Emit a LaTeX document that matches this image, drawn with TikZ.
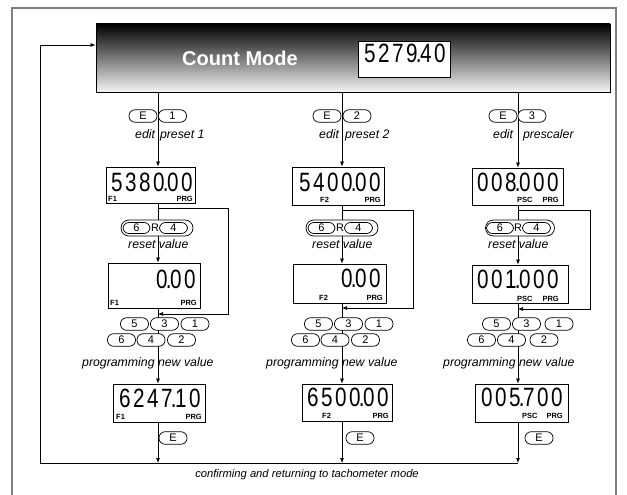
\documentclass[tikz,border=0pt]{standalone}
\usepackage{fontspec}
\setmainfont{Liberation Sans}
\newfontfamily\segfont[FakeStretch=0.78]{Liberation Sans}
\usetikzlibrary{arrows.meta,calc}
\pgfdeclarelayer{background}
\pgfsetlayers{background,main}
\newlength\segw
\setlength\segw{14pt}
\makeatletter
\def\sg@dot{.}
\newcommand\segnum[1]{\@tfor\sg@c:=#1\do{\ifx\sg@c\sg@dot\makebox[0pt]{.}\else\makebox[\segw]{\sg@c}\fi}}
\makeatother
\tikzset{
  disp/.style={draw=black, line width=0.8pt, fill=white, inner sep=0pt},
  seg/.style={font=\segfont\fontsize{26.5}{26.5}\selectfont, inner sep=0pt},
  tag/.style={font=\bfseries\fontsize{7.5}{8}\selectfont, inner sep=0pt},
  key/.style={draw, line width=0.7pt, fill=white, rounded corners=6pt, minimum width=28pt, minimum height=12.5pt, inner sep=0pt, font=\fontsize{11}{11}\selectfont},
  grp/.style={draw, line width=0.7pt, fill=white, rounded corners=8pt, minimum width=72pt, minimum height=16pt, inner sep=0pt},
  note/.style={font=\itshape\fontsize{12.3}{13}\selectfont, inner sep=0pt},
  flow/.style={line width=0.7pt, -{Latex[length=5pt,width=4pt]}},
  wire/.style={line width=0.7pt}
}
\begin{document}
\begin{tikzpicture}[x=1pt,y=-1pt]
\useasboundingbox (0,0) rectangle (627,495);
% frame
\draw[gray, line width=1.2pt] (12,496) -- (12,8) -- (616,8) -- (616,496);
% header
\node[draw=black, line width=0.8pt, top color=black, bottom color=white!96!black, minimum width=514pt, minimum height=68pt, inner sep=0pt] (hdr) at (353,58) {};
\node[font=\bfseries\fontsize{20}{20}\selectfont, text=white, inner sep=0pt] (title) at (240,58) {Count Mode};
\node[disp, minimum width=92pt, minimum height=36pt] (hd) at (404,59) {};
\node[seg, anchor=base east] (hdv) at (447,63) {\segnum{5279.40}};

\coordinate (c1) at (158,0);
\coordinate (c2) at (342,0);
\coordinate (c3) at (518,0);
\coordinate (bl) at (40,463);
\coordinate (tl) at (40,45);

% ---------- column 1 ----------
\node[key] (e1) at (143,116) {E};
\node[key] (n1) at (172.5,116) {1};
\node[note, anchor=base west] (t1) at (135,138) {edit\hspace{5pt}preset 1};
\node[disp, minimum width=89pt, minimum height=36pt] (a1) at (150.5,185) {};
\node[seg, anchor=base east] (a1v) at (194,191) {\segnum{5380.00}};
\node[tag, anchor=base west] (a1f) at (108,201) {F1};
\node[tag, anchor=base east] (a1p) at (193,201) {PRG};
\node[grp] (r1) at (157,228) {};
\node[key, minimum width=27pt, minimum height=11pt] (r1a) at (136.5,228) {6};
\node[font=\fontsize{11}{11}\selectfont, inner sep=0pt] (r1r) at (155,228) {R};
\node[key, minimum width=28pt, minimum height=11pt] (r1b) at (173.5,228) {4};
\node[note, anchor=base west] (s1) at (128,248) {reset value};
\node[disp, minimum width=92pt, minimum height=45pt] (a2) at (154,285.5) {};
\node[seg, anchor=base east] (a2v) at (197,288) {\segnum{0.00}};
\node[tag, anchor=base west] (a2f) at (110,305.5) {F1};
\node[tag, anchor=base east] (a2p) at (197,305.5) {PRG};
\coordinate (j1) at (228,208);
\coordinate (k1) at (228,314);
\node[key] (p15) at (134.5,324) {5};
\node[key] (p13) at (164.5,324) {3};
\node[key] (p11) at (195,324) {1};
\node[key] (p16) at (121.5,340) {6};
\node[key] (p14) at (151,340) {4};
\node[key] (p12) at (181.5,340) {2};
\node[note, anchor=base west] (g1) at (82,366) {programming new value};
\node[disp, minimum width=92pt, minimum height=38pt] (a3) at (159,403) {};
\node[seg, anchor=base east] (a3v) at (202,407) {\segnum{6247.10}};
\node[tag, anchor=base west] (a3f) at (116,419) {F1};
\node[tag, anchor=base east] (a3p) at (202,419) {PRG};
\node[key] (f1) at (173,438) {E};

% ---------- column 2 ----------
\node[key] (e2) at (327,116) {E};
\node[key] (n2) at (357,116) {2};
\node[note, anchor=base west] (t2) at (319,138) {edit\hspace{6pt}preset 2};
\node[disp, minimum width=92pt, minimum height=38pt] (b1) at (338,186) {};
\node[seg, anchor=base east] (b1v) at (382,191) {\segnum{5400.00}};
\node[tag, anchor=base west] (b1f) at (320,202.5) {F2};
\node[tag, anchor=base east] (b1p) at (381,202.5) {PRG};
\node[grp] (r2) at (342,228) {};
\node[key, minimum width=27pt, minimum height=11pt] (r2a) at (321.5,228) {6};
\node[font=\fontsize{11}{11}\selectfont, inner sep=0pt] (r2r) at (340,228) {R};
\node[key, minimum width=28pt, minimum height=11pt] (r2b) at (358.5,228) {4};
\node[note, anchor=base west] (s2) at (312,248) {reset value};
\node[disp, minimum width=93pt, minimum height=39pt] (b2) at (339.5,283.5) {};
\node[seg, anchor=base east] (b2v) at (382,287) {\segnum{0.00}};
\node[tag, anchor=base west] (b2f) at (319,300) {F2};
\node[tag, anchor=base east] (b2p) at (383,300) {PRG};
\coordinate (j2) at (413,210);
\coordinate (k2) at (413,308);
\node[key] (p25) at (318.5,324) {5};
\node[key] (p23) at (348.5,324) {3};
\node[key] (p21) at (379,324) {1};
\node[key] (p26) at (305.5,340) {6};
\node[key] (p24) at (335,340) {4};
\node[key] (p22) at (365.5,340) {2};
\node[note, anchor=base west] (g2) at (266,366) {programming new value};
\node[disp, minimum width=90pt, minimum height=37pt] (b3) at (347,402.5) {};
\node[seg, anchor=base east] (b3v) at (390,406) {\segnum{6500.00}};
\node[tag, anchor=base west] (b3f) at (322,418) {F2};
\node[tag, anchor=base east] (b3p) at (389,418) {PRG};
\node[key] (f2) at (360,438) {E};

% ---------- column 3 ----------
\node[key] (e3) at (503,116) {E};
\node[key] (n3) at (532,116) {3};
\node[note, anchor=base west] (t3) at (493,138) {edit\hspace{10pt}prescaler};
\node[disp, minimum width=91pt, minimum height=37pt] (d1) at (517.5,186.5) {};
\node[seg, anchor=base east] (d1v) at (560,191) {\segnum{008.000}};
\node[tag, anchor=base west] (d1s) at (517,202.5) {PSC};
\node[tag, anchor=base east] (d1p) at (559,202.5) {PRG};
\node[grp, minimum width=69pt] (r3) at (520,228) {};
\node[key, minimum width=27pt, minimum height=11pt] (r3a) at (500,228) {6};
\node[font=\fontsize{11}{11}\selectfont, inner sep=0pt] (r3r) at (518,228) {R};
\node[key, minimum width=28pt, minimum height=11pt] (r3b) at (536.5,228) {4};
\node[note, anchor=base west] (s3) at (488,248) {reset value};
\node[disp, minimum width=96pt, minimum height=38pt] (d2) at (520,284) {};
\node[seg, anchor=base east] (d2v) at (560,288) {\segnum{001.000}};
\node[tag, anchor=base west] (d2s) at (517,301) {PSC};
\node[tag, anchor=base east] (d2p) at (559,301) {PRG};
\coordinate (j3) at (590,210);
\coordinate (k3) at (590,309);
\node[key] (p35) at (496.5,324) {5};
\node[key] (p33) at (526.5,324) {3};
\node[key] (p31) at (559,324) {1};
\node[key] (p36) at (481.5,340) {6};
\node[key] (p34) at (511.5,340) {4};
\node[key] (p32) at (544,340) {2};
\node[note, anchor=base west] (g3) at (443,366) {programming new value};
\node[disp, minimum width=93pt, minimum height=38pt] (d3) at (521.5,403) {};
\node[seg, anchor=base east] (d3v) at (564,406) {\segnum{005.700}};
\node[tag, anchor=base west] (d3s) at (522,418) {PSC};
\node[tag, anchor=base east] (d3p) at (563,418) {PRG};
\node[key] (f3) at (539,438) {E};

\node[note, font=\itshape\fontsize{11.2}{12}\selectfont, anchor=base] (conf) at (307,477) {confirming and returning to tachometer mode};

% ---------- connectors ----------
\begin{pgfonlayer}{background}
\fill[white] (0,0) rectangle (627,495);
\foreach \c/\a/\b/\d/\j/\k in {c1/a1/a2/a3/j1/k1, c2/b1/b2/b3/j2/k2, c3/d1/d2/d3/j3/k3}{
  \draw[flow] (\c |- hdr.south) -- (\c |- \a.north);
  \draw[flow] (\c |- \a.south) -- (\c |- \b.north);
  \draw[flow] (\c |- \b.south) -- (\c |- \d.north);
  \draw[flow] (\c |- \d.south) -- (\c |- bl);
  \draw[flow] (\c |- \j) -- (\j) -- (\k) -- (\c |- \k);
}
\draw[wire] (c3 |- bl) -- (bl) -- (tl);
\draw[flow] (tl) -- (tl -| hdr.west);
\end{pgfonlayer}
\end{tikzpicture}
\end{document}
